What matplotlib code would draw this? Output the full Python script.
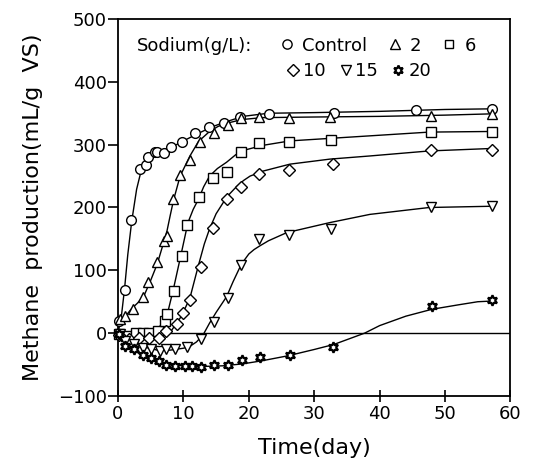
import matplotlib
matplotlib.use("Agg")
import matplotlib.pyplot as plt

# ── Data ──────────────────────────────────────────────────────────────────────
# measured points
ctrl_x = [0.1, 1.05, 2.04, 3.35, 4.3, 4.65, 5.6, 5.96, 7.06, 8.1, 9.78, 11.77,
          13.96, 16.16, 18.67, 23.1, 33.05, 45.5, 57.1]
ctrl_y = [20, 68, 180, 261, 268, 281, 288, 289, 287, 296, 305, 319,
          328, 335, 344, 349, 351, 355, 357]

na2_x = [0.37, 1.05, 2.3, 3.77, 4.65, 5.96, 7.0, 7.43, 8.47, 9.52, 10.98, 12.55,
         14.75, 16.84, 18.83, 21.55, 26.15, 32.4, 47.8, 57.1]
na2_y = [23, 27, 39, 57, 81, 113, 146, 154, 214, 251, 275, 305,
         319, 332, 342, 344, 342, 344, 346, 349]

na6_x = [0.2, 1.2, 2.7, 3.9, 4.8, 6.1, 7.2, 7.43, 8.58, 9.78, 10.56, 12.4,
         14.6, 16.6, 18.83, 21.55, 26.15, 32.5, 47.8, 57.1]
na6_y = [-2, -5, 0, 0, 0, 4, 20, 31, 67, 122, 172, 217,
         247, 256, 288, 302, 305, 308, 320, 320]

na10_x = [0.2, 1.7, 3.2, 4.8, 6.3, 7.4, 9.0, 9.94, 11.0, 12.66, 14.5, 16.7,
          18.83, 21.55, 26.15, 32.8, 47.8, 57.1]
na10_y = [-3, -10, -7, -7, -7, 3, 15, 32, 52, 105, 167, 214,
          232, 253, 260, 269, 291, 292]

na15_x = [0.37, 1.15, 2.46, 3.77, 5.07, 6.4, 7.4, 8.7, 10.56, 12.66, 14.64, 16.84,
          18.83, 21.55, 26.15, 32.5, 47.8, 57.1]
na15_y = [-2, -13, -18, -23, -26, -29, -26, -26, -22, -9, 17, 56,
          108, 150, 157, 165, 201, 202]

na20_x = [0.2, 1.15, 2.46, 3.77, 5.07, 6.3, 7.4, 8.7, 10.3, 11.35, 12.66, 14.75,
          16.84, 18.9, 21.65, 26.25, 32.8, 48.0, 57.2]
na20_y = [-1, -21, -26, -34, -39, -44, -50, -52, -52, -53, -54, -51,
          -51, -43, -38, -35, -22, 44, 52]

# fitted curves (vertices)
ctrl_cx = [0, 0.5, 1, 1.5, 2.1, 2.85, 3.6, 4.2, 4.9, 5.8, 6.9, 8.4, 10, 12.5, 14.3, 16.1,
           19.1, 23, 30, 40, 50, 57]
ctrl_cy = [0, 25, 70, 125, 178, 229, 261, 272, 280, 285, 289, 297, 306, 319, 328, 335,
           345, 350, 351, 353, 356, 357]

na2_cx = [0, 1, 2, 3, 4, 5, 6, 7, 7.5, 8, 8.5, 9.5, 11, 12.3, 14, 15.3, 16.6, 19, 22, 30,
          40, 50, 57]
na2_cy = [12, 25, 38, 48, 60, 84, 110, 145, 163, 188, 212, 250, 282, 305, 321, 329, 334,
          340, 343, 344, 345, 347, 349]

na6_cx = [0, 2, 4, 5.5, 6.5, 6.9, 7.7, 8.45, 9.7, 10.7, 11.5, 12.3, 13.1, 14, 15.2, 16.6,
          18, 19.6, 22.2, 26.3, 32.4, 40, 47.6, 57.3]
na6_cy = [0, -2, -2, 2, 12, 21, 37, 69, 128, 176, 197, 213, 233, 250, 262, 272,
          284, 292, 299, 306, 310, 315, 320, 321]

na10_cx = [0, 2, 4, 6, 7.9, 9.7, 11, 12.25, 13.2, 14, 15, 16.1, 17.1, 18.1, 19.2, 20.2,
           22.2, 26.3, 32.4, 38.5, 47.6, 57.3]
na10_cy = [0, -7, -9, -7, 0, 27, 56, 106, 142, 166, 190, 208, 222, 233, 243, 250,
           258, 269, 277, 282, 290, 294]

na15_cx = [0, 2, 4, 6, 8, 10, 11, 12, 13, 14, 15, 16.6, 17.6, 18.6, 19.3, 20, 20.8, 21.7,
           23, 25.8, 32.4, 38.5, 47.6, 57.3]
na15_cy = [0, -15, -22, -27, -27, -24, -21, -14, -3, 16, 33, 58, 82, 104, 116, 126, 133, 139,
           147, 160, 176, 189, 200, 202]

na20_cx = [0, 1, 2, 4, 6, 8, 10, 13, 16, 19, 22, 26, 30, 33, 37.7, 40, 44, 48, 52, 55, 57]
na20_cy = [0, -15, -25, -37, -45, -50, -52, -53, -52, -49, -44, -36, -26, -18, 0, 12, 27,
           38, 45, 50, 51]

series = [
    ("Control", ctrl_x, ctrl_y, ctrl_cx, ctrl_cy, "o", 7.0, 1.0),
    ("2",       na2_x,  na2_y,  na2_cx,  na2_cy,  "^", 7.0, 1.0),
    ("6",       na6_x,  na6_y,  na6_cx,  na6_cy,  "s", 6.5, 1.0),
    ("10",      na10_x, na10_y, na10_cx, na10_cy, "D", 6.5, 1.0),
    ("15",      na15_x, na15_y, na15_cx, na15_cy, "v", 7.0, 1.0),
    ("20",      na20_x, na20_y, na20_cx, na20_cy, (6, 1, 0), 7.5, 1.6),
]

# ── Plot ──────────────────────────────────────────────────────────────────────
plt.rcParams["font.family"] = ["DejaVu Sans"]

fig = plt.figure(figsize=(5.36, 4.69), dpi=100)
ax = fig.add_axes([0.2201, 0.1557, 0.7323, 0.8038])

handles = {}
for name, x, y, cx, cy, mk, ms, mew in series:
    ax.plot(cx, cy, color="black", lw=1.0, zorder=2)
    h, = ax.plot(x, y, ls="none", marker=mk, ms=ms, mfc="white", mec="black",
                 mew=mew, zorder=3, clip_on=False)
    handles[name] = h

ax.axhline(0, color="black", lw=1.0, zorder=1)

ax.set_xlim(0, 60)
ax.set_ylim(-100, 500)
ax.set_xticks([0, 10, 20, 30, 40, 50, 60])
ax.set_yticks([-100, 0, 100, 200, 300, 400, 500])
ax.tick_params(axis="x", direction="inout", length=9, width=1.2, labelsize=13, pad=2)
ax.tick_params(axis="y", direction="out", length=7, width=1.2, labelsize=13, pad=1)
for s in ax.spines.values():
    s.set_linewidth(1.3)

ax.set_xlabel("Time(day)", fontsize=16)
ax.set_ylabel("Methane  production(mL/g  VS)", fontsize=16)
ax.xaxis.set_label_coords(0.5, -0.112)
ax.yaxis.set_label_coords(-0.19, 0.5)

# legend
ax.text(0.048, 0.929, "Sodium(g/L):", transform=ax.transAxes, fontsize=13,
        ha="left", va="center")
leg1 = ax.legend([handles[k] for k in ["Control", "2", "6"]], ["Control", "2", "6"],
                 ncol=3, loc="center left", bbox_to_anchor=(0.4115, 0.929),
                 frameon=False, fontsize=13, handlelength=0.8, handletextpad=0.43,
                 columnspacing=1.15, borderpad=0, borderaxespad=0, markerscale=0.95)
ax.add_artist(leg1)
ax.legend([handles[k] for k in ["10", "15", "20"]], ["10", "15", "20"],
          ncol=3, loc="center left", bbox_to_anchor=(0.4283, 0.862),
          frameon=False, fontsize=13, handlelength=0.8, handletextpad=0.14,
          columnspacing=0.71, borderpad=0, borderaxespad=0, markerscale=0.95)

fig.savefig("out.png", dpi=100)
